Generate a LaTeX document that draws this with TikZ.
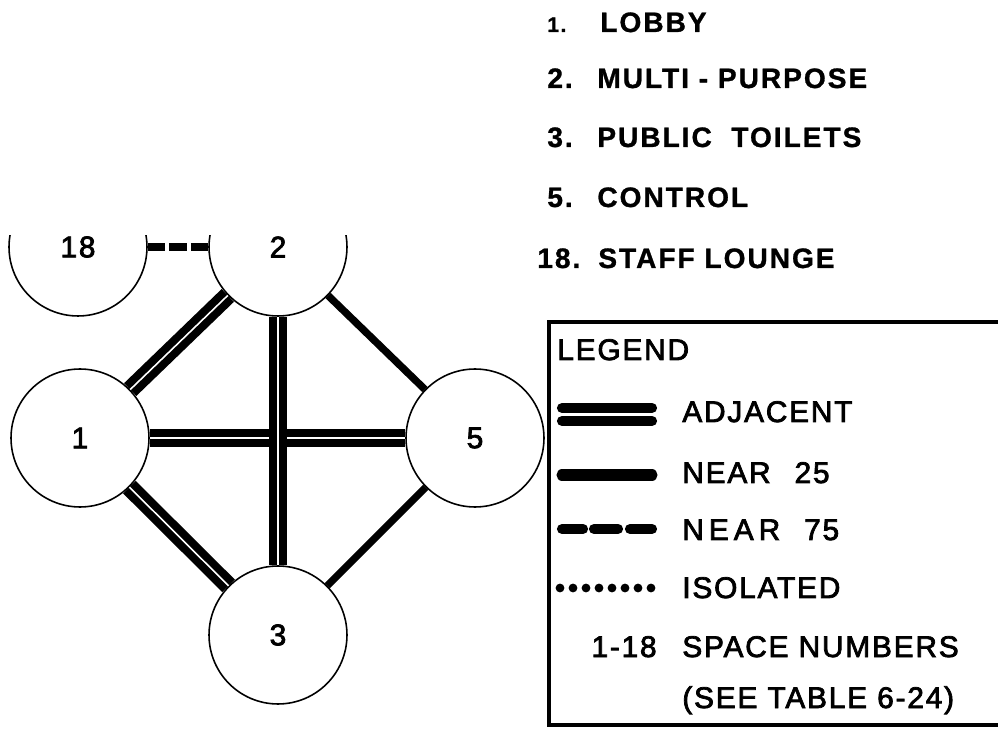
\documentclass[tikz,border=0pt]{standalone}
\usepackage{fontspec}
\setmainfont{Liberation Sans}
\newfontfamily\listfont[LetterSpace=7,FakeBold=1]{Liberation Sans Bold}
\newfontfamily\handfont[LetterSpace=6,FakeBold=2.5]{Liberation Sans}
\usetikzlibrary{positioning}

\begin{document}
\begin{tikzpicture}[x=0.02cm, y=-0.02cm,
  room/.style={circle, draw, line width=0.9pt, fill=white, minimum size=2.76cm,
               inner sep=0pt, font=\handfont\fontsize{17}{17}\selectfont},
  adjacent/.style={line width=4.6pt, double=white, double distance=0.9pt},
  nearA/.style={line width=4.2pt},
  nearB/.style={line width=5pt, dash pattern=on 10pt off 2.3pt},
  keyline/.style={line width=5.8pt, line cap=round},
  lst/.style={anchor=base west, inner sep=0pt,
              font=\listfont\fontsize{16}{16}\selectfont},
  lbl/.style={anchor=base west, inner sep=0pt,
              font=\handfont\fontsize{17}{17}\selectfont}]
  \useasboundingbox (0,0) rectangle (998,729);

  % list of spaces
  \node[lst, font=\listfont\fontsize{12}{12}\selectfont] (k1) at (547,32) {1.};
  \node[lst] (t1)  at (600,32)  {LOBBY};
  \node[lst] (k2)  at (547,88)  {2.};
  \node[lst] (t2)  at (597,88)  {MULTI - PURPOSE};
  \node[lst] (k3)  at (547,147) {3.};
  \node[lst] (t3)  at (597,147) {PUBLIC\ \ TOILETS};
  \node[lst] (k5)  at (547,207) {5.};
  \node[lst] (t5)  at (597,207) {CONTROL};
  \node[lst] (k18) at (537,268) {18.};
  \node[lst] (t18) at (598,268) {STAFF LOUNGE};

  % relation diagram
  \begin{scope}
    \clip (0,236) rectangle (547,729);
    \node[room] (r18) at (78,247)  {18};
    \node[room] (r2)  at (278,247) {2};
    \node[room] (r1)  at (80,438)  {1};
    \node[room] (r5)  at (475,438) {5};
    \node[room] (r3)  at (278,635) {3};
    \draw[adjacent] (r1) -- (r2);
    \draw[adjacent] (r1) -- (r3);
    \draw[adjacent] (r1) -- (r5);
    \draw[adjacent] (r2) -- (r3);
    \draw[nearA] (r2) -- (r5);
    \draw[nearA] (r5) -- (r3);
    \draw[nearB] (r18) -- (r2);
  \end{scope}

  % legend
  \draw[line width=1.8pt] (1010,322) -- (549,322) -- (549,725) -- (1010,725);
  \node[lbl] (lg) at (557,360) {LEGEND};
  \draw[keyline] (562,408) -- (652,408);
  \draw[keyline] (562,421) -- (652,421);
  \node[lbl] (ladj) at (682,422) {ADJACENT};
  \draw[keyline, line width=6.3pt] (562,475) -- (652,475);
  \node[lbl] (ln25) at (682,483) {NEAR\hskip0.8em 25};
  \foreach \a/\b in {562/583, 594/618, 630/652}
    \draw[keyline] (\a,529) -- (\b,529);
  \node[lbl] (ln75) at (682,540) {N\,E\,A\,R\hskip0.8em 75};
  \foreach \x in {560,573,...,651}
    \fill (\x,588) circle[radius=2.5pt];
  \node[lbl] (liso) at (682,598) {ISOLATED};
  \node[lbl, anchor=base east] (lnum) at (657,657) {1-18};
  \node[lbl] (lsp) at (682,657) {SPACE NUMBERS};
  \node[lbl] (ltab) at (682,708) {(SEE TABLE 6-24)};
\end{tikzpicture}
\end{document}
